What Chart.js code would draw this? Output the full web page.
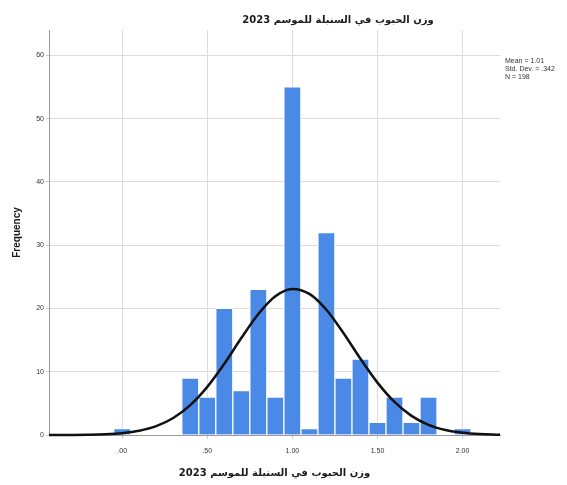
<!DOCTYPE html>
<html>
<head>
<meta charset="utf-8">
<script src="https://cdn.jsdelivr.net/npm/chart.js@4.4.1/dist/chart.umd.min.js"></script>
<style>
  html, body { margin: 0; padding: 0; background: #fff; }
  #wrap { width: 567px; height: 485px; position: relative; }
</style>
</head>
<body>
<div id="wrap"><canvas id="c" width="567" height="485"></canvas></div>
<script>
// ---- data ----
const titleText = "وزن الحبوب في السنبلة للموسم 2023";
const xAxisTitle = "وزن الحبوب في السنبلة للموسم 2023";
const yAxisTitle = "Frequency";
const binCenters = [0.0, 0.1, 0.2, 0.3, 0.4, 0.5, 0.6, 0.7, 0.8, 0.9, 1.0, 1.1, 1.2, 1.3, 1.4, 1.5, 1.6, 1.7, 1.8, 1.9, 2.0];
const frequencies = [1, 0, 0, 0, 9, 6, 20, 7, 23, 6, 55, 1, 32, 9, 12, 2, 6, 2, 6, 0, 1];
const curveX = [-0.43, -0.4, -0.3, -0.2, -0.1, 0.0, 0.1, 0.2, 0.3, 0.4, 0.5, 0.6, 0.7, 0.8, 0.9, 1.0, 1.1, 1.2, 1.3, 1.4, 1.5, 1.6, 1.7, 1.8, 1.9, 2.0, 2.1, 2.2, 2.22];
const curveY = [0.003, 0.005, 0.015, 0.044, 0.119, 0.295, 0.67, 1.40, 2.68, 4.71, 7.60, 11.26, 15.32, 19.13, 21.94, 23.09, 22.31, 19.80, 16.12, 12.06, 8.28, 5.22, 3.02, 1.60, 0.78, 0.35, 0.144, 0.054, 0.04];
const xTickValues = [0, 0.5, 1.0, 1.5, 2.0];
const xTickLabels = [".00", ".50", "1.00", "1.50", "2.00"];
const yTickValues = [0, 10, 20, 30, 40, 50, 60];
const yTickLabels = ["0", "10", "20", "30", "40", "50", "60"];
const statsLines = ["Mean = 1.01", "Std. Dev. = .342", "N = 198"];

const barData = binCenters.map((x, i) => ({ x: x, y: frequencies[i] }));
const lineData = curveX.map((x, i) => ({ x: x, y: curveY[i] }));

const textPlugin = {
  id: 'extraText',
  afterDraw(chart) {
    const ctx = chart.ctx;
    ctx.save();
    ctx.fillStyle = '#1a1a1a';
    ctx.textBaseline = 'middle';
    ctx.textAlign = 'center';
    ctx.font = 'bold 10px "DejaVu Sans"';
    ctx.fillText(titleText, 338, 20);
    ctx.textAlign = 'left';
    ctx.font = '7px "Liberation Sans"';
    ctx.fillStyle = '#333';
    statsLines.forEach((s, i) => ctx.fillText(s, 505, 61 + i * 8));
    ctx.restore();
  }
};

new Chart(document.getElementById('c'), {
  type: 'bar',
  data: {
    datasets: [
      {
        type: 'line',
        data: lineData,
        borderColor: '#111111',
        borderWidth: 2.5,
        pointRadius: 0,
        fill: false,
        cubicInterpolationMode: 'monotone',
        clip: 4,
        order: 0
      },
      {
        type: 'bar',
        data: barData,
        backgroundColor: '#4a8ae6',
        borderColor: '#ffffff',
        borderWidth: 1,
        barPercentage: 1,
        categoryPercentage: 1,
        order: 1
      }
    ]
  },
  options: {
    responsive: false,
    animation: false,
    layout: { padding: { top: 30, right: 67, bottom: 0, left: 0 } },
    plugins: { legend: { display: false }, tooltip: { enabled: false }, title: { display: false } },
    scales: {
      x: {
        type: 'linear',
        min: -0.43,
        max: 2.22,
        offset: false,
        afterFit(s) { s.height = 50; },
        afterBuildTicks(s) { s.ticks = xTickValues.map(v => ({ value: v })); },
        ticks: {
          autoSkip: false,
          maxRotation: 0,
          padding: 8,
          color: '#333',
          font: { family: 'Liberation Sans', size: 7 },
          callback(v) { const i = xTickValues.indexOf(v); return i >= 0 ? xTickLabels[i] : ''; }
        },
        grid: { color: '#dcdcdc', offset: false, tickLength: 4, tickColor: '#cccccc' },
        border: { color: '#9a9a9a' },
        title: {
          display: true,
          text: xAxisTitle,
          color: '#1a1a1a',
          font: { family: 'DejaVu Sans', size: 10, weight: 'bold' },
          padding: { top: 6, bottom: 6 }
        }
      },
      y: {
        min: 0,
        max: 64,
        afterFit(s) { s.width = 49; },
        afterBuildTicks(s) { s.ticks = yTickValues.map(v => ({ value: v })); },
        ticks: {
          padding: 2,
          color: '#333',
          font: { family: 'Liberation Sans', size: 7 },
          callback(v) { const i = yTickValues.indexOf(v); return i >= 0 ? yTickLabels[i] : ''; }
        },
        grid: { color: '#dcdcdc', tickLength: 3, tickColor: '#cccccc' },
        border: { color: '#9a9a9a' },
        title: {
          display: true,
          text: yAxisTitle,
          color: '#1a1a1a',
          font: { family: 'Liberation Sans', size: 10, weight: 'bold' },
          padding: { top: 11, bottom: 11 }
        }
      }
    }
  },
  plugins: [textPlugin]
});
</script>
</body>
</html>
